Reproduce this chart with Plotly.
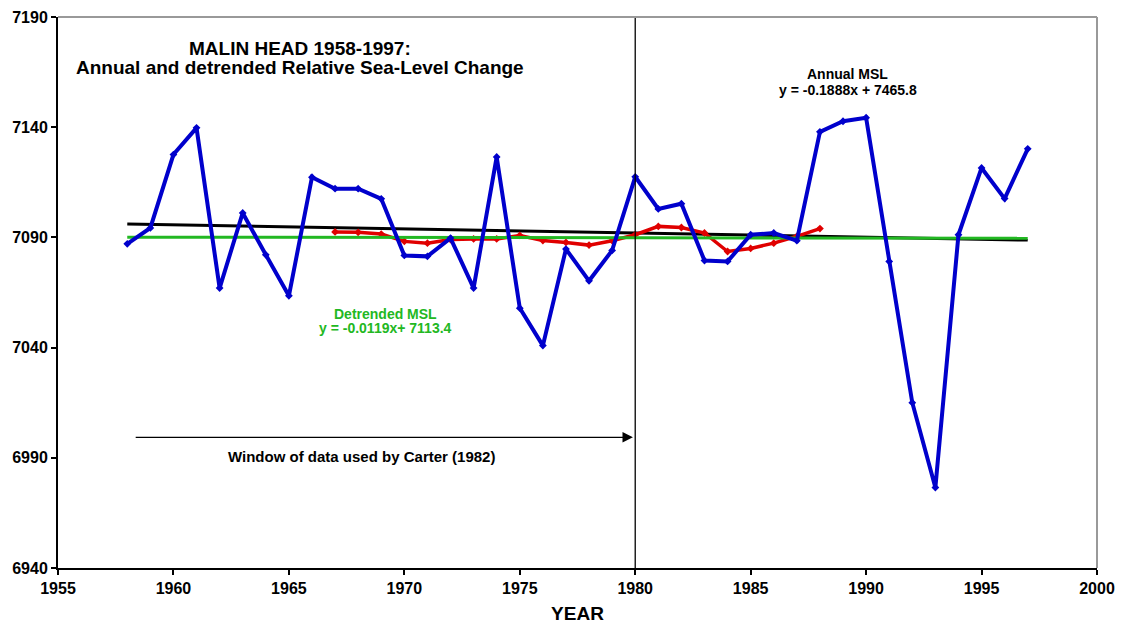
import plotly.graph_objects as go

# Annual mean sea level at Malin Head (mm), 1958-1997
years = list(range(1958, 1998))
annual_msl = [
    7087.1, 7094.3, 7127.6, 7139.7, 7067.0, 7101.1, 7082.1, 7063.5, 7117.3, 7112.1,
    7112.1, 7107.5, 7081.8, 7081.4, 7089.7, 7067.0, 7126.5, 7057.9, 7040.9, 7084.7,
    7070.3, 7084.1, 7117.5, 7102.9, 7105.3, 7079.5, 7079.1, 7091.2, 7092.0, 7088.5,
    7137.9, 7142.7, 7144.3, 7079.1, 7015.0, 6976.5, 7091.2, 7121.5, 7107.6, 7130.2,
]

# Detrended running mean, 1967-1988
detr_years = list(range(1967, 1989))
detr_msl = [
    7092.5, 7092.3, 7091.5, 7088.2, 7087.4, 7089.0, 7089.3, 7089.3, 7090.9, 7088.6,
    7087.7, 7086.5, 7088.5, 7091.2, 7095.0, 7094.5, 7092.0, 7083.6, 7085.0, 7087.4,
    7090.5, 7094.0,
]

# Linear fits (slope, intercept)
annual_fit = (-0.1888, 7465.8)
detr_fit = (-0.0119, 7113.4)

x_ticks = [1955, 1960, 1965, 1970, 1975, 1980, 1985, 1990, 1995, 2000]
y_ticks = [6940, 6990, 7040, 7090, 7140, 7190]

FONT = "Liberation Sans, Arial, sans-serif"

fig = go.Figure()

fit_x = [years[0], years[-1]]
fig.add_trace(go.Scatter(
    x=fit_x, y=[annual_fit[0] * v + annual_fit[1] for v in fit_x],
    mode="lines", line=dict(color="#000000", width=3), hoverinfo="skip"))
fig.add_trace(go.Scatter(
    x=detr_years, y=detr_msl, mode="lines+markers",
    line=dict(color="#E00000", width=3.5),
    marker=dict(symbol="diamond", size=6, color="#E00000")))
fig.add_trace(go.Scatter(
    x=fit_x, y=[detr_fit[0] * v + detr_fit[1] for v in fit_x],
    mode="lines", line=dict(color="#22B822", width=3), hoverinfo="skip"))
fig.add_trace(go.Scatter(
    x=years, y=annual_msl, mode="lines+markers",
    line=dict(color="#0000CC", width=4),
    marker=dict(symbol="diamond", size=6, color="#0000CC")))

# Vertical divider at 1980
fig.add_shape(type="line", x0=1980, x1=1980, y0=0, y1=1, xref="x", yref="paper",
              line=dict(color="#000000", width=1.3))
# Plot-area frame (top and right edges)
fig.add_shape(type="line", x0=0, x1=1, y0=1, y1=1, xref="paper", yref="paper",
              line=dict(color="#999999", width=2))
fig.add_shape(type="line", x0=1, x1=1, y0=0, y1=1, xref="paper", yref="paper",
              line=dict(color="#999999", width=2))

ann = []
def txt(x, y, s, size, color="#000000"):
    ann.append(dict(x=x, y=y, xref="x", yref="y", text=s, showarrow=False,
                    font=dict(family=FONT, size=size, color=color),
                    xanchor="center", yanchor="middle"))

txt(1965.5, 7175.8, "<b>MALIN HEAD 1958-1997:</b>", 19)
txt(1965.5, 7167.0, "<b>Annual and detrended Relative Sea-Level Change</b>", 19)
txt(1989.2, 7164.0, "<b>Annual MSL</b>", 14)
txt(1989.2, 7156.8, "<b>y = -0.1888x + 7465.8</b>", 14)
txt(1969.2, 7055.3, "<b>Detrended MSL</b>", 14, "#22B822")
txt(1969.2, 7048.8, "<b>y = -0.0119x+ 7113.4</b>", 14, "#22B822")
txt(1968.15, 6990.8, "<b>Window of data used by Carter (1982)</b>", 15)

ann.append(dict(x=1979.9, y=6999.3, ax=1958.3, ay=6999.3, xref="x", yref="y",
                axref="x", ayref="y", text="", showarrow=True,
                arrowhead=2, arrowsize=1.6, arrowwidth=1.3, arrowcolor="#000000"))

fig.update_layout(
    width=1122, height=627,
    margin=dict(l=58, r=25, t=17, b=59),
    paper_bgcolor="#FFFFFF", plot_bgcolor="#FFFFFF",
    showlegend=False,
    annotations=ann,
    font=dict(family=FONT, color="#000000"),
    xaxis=dict(range=[1955, 2000], tickvals=x_ticks, automargin=False,
               ticktext=[f"<b>{v}</b>" for v in x_ticks],
               showgrid=False, zeroline=False, showline=True,
               linecolor="#000000", linewidth=2, ticks="outside", ticklen=5,
               tickcolor="#000000", tickwidth=1.5,
               tickfont=dict(family=FONT, size=16, color="#000000"),
               title=dict(text="<b>YEAR</b>", standoff=10,
                          font=dict(family=FONT, size=19, color="#000000"))),
    yaxis=dict(range=[6940, 7190], tickvals=y_ticks, automargin=False,
               ticktext=[f"<b>{v}</b>" for v in y_ticks],
               showgrid=False, zeroline=False, showline=True,
               linecolor="#000000", linewidth=2, ticks="outside", ticklen=5,
               tickcolor="#000000", tickwidth=1.5,
               tickfont=dict(family=FONT, size=16, color="#000000")),
)

fig.write_html("out.html")
